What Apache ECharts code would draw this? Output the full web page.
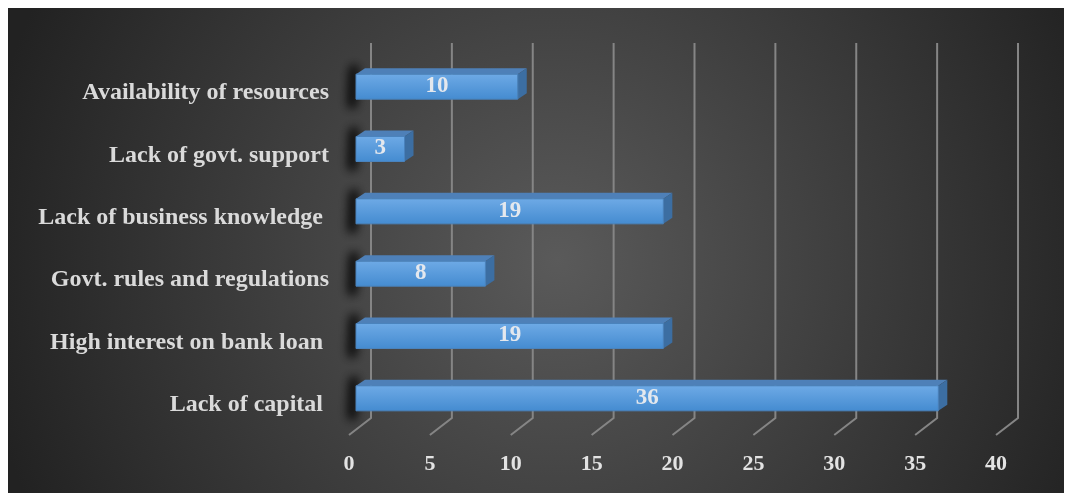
<!DOCTYPE html>
<html>
<head>
<meta charset="utf-8">
<script src="https://cdn.jsdelivr.net/npm/echarts@6/dist/echarts.min.js"></script>
<style>
  html, body { margin: 0; padding: 0; background: #ffffff; }
  #chart { width: 1066px; height: 493px; }
</style>
</head>
<body>
<div id="chart"></div>
<script>
// Constraints reported by respondents (bottom to top on the category axis)
const categories = [
  'Lack of capital ',
  'High interest on bank loan ',
  'Govt. rules and regulations',
  'Lack of business knowledge ',
  'Lack of govt. support',
  'Availability of resources'
];
const counts = [36, 19, 8, 19, 3, 10];
const tickValues = [0, 5, 10, 15, 20, 25, 30, 35, 40];

const chart = echarts.init(document.getElementById('chart'));
const FONT = '"Liberation Serif", "Times New Roman", serif';

// 3D wall geometry (pixel offsets relative to the plot area)
const BACK_DX = 15, FRONT_DX = -7;
const BAR_H = 25, DEPTH_X = 9, DEPTH_Y = 6;
const SHADOW_SHIFT = 3000;

function renderGridLine(params, api) {
  const cs = params.coordSys;
  const x = api.coord([api.value(0), 0])[0];
  const top = cs.y - 12;
  const backBottom = cs.y + cs.height - 11;
  const frontBottom = cs.y + cs.height + 6;
  return {
    type: 'polyline',
    shape: { points: [[x + BACK_DX, top], [x + BACK_DX, backBottom], [x + FRONT_DX, frontBottom]] },
    style: { stroke: '#858585', lineWidth: 2, fill: null },
    silent: true
  };
}

// blurred dark strip cast by a bar onto the left wall; the shape itself sits off-screen
function wallShadow(x0, yTop, yBot, blur, alpha) {
  return {
    type: 'polygon',
    shape: { points: [
      [x0 - 5 - SHADOW_SHIFT, yTop - 8],
      [x0 + 1 - SHADOW_SHIFT, yTop - 8],
      [x0 - 1 - SHADOW_SHIFT, yBot + 8],
      [x0 - 7 - SHADOW_SHIFT, yBot + 8]
    ] },
    style: {
      fill: '#000',
      shadowBlur: blur, shadowColor: 'rgba(0,0,0,' + alpha + ')',
      shadowOffsetX: SHADOW_SHIFT, shadowOffsetY: 0
    },
    z2: 0
  };
}

function renderBar(params, api) {
  const v = api.value(0);
  const cat = api.value(1);
  const p0 = api.coord([0, cat]);
  const p1 = api.coord([v, cat]);
  const x0 = p0[0], x1 = p1[0];
  const yTop = p0[1] - 12, yBot = yTop + BAR_H;
  return {
    type: 'group',
    children: [
      wallShadow(x0, yTop, yBot, 12, 1),
      wallShadow(x0, yTop, yBot, 8, 0.7),
      { // top face
        type: 'polygon',
        shape: { points: [[x0, yTop], [x1, yTop], [x1 + DEPTH_X, yTop - DEPTH_Y], [x0 + DEPTH_X, yTop - DEPTH_Y]] },
        style: { fill: '#4e80b8' },
        z2: 1
      },
      { // side face
        type: 'polygon',
        shape: { points: [[x1, yTop], [x1 + DEPTH_X, yTop - DEPTH_Y], [x1 + DEPTH_X, yBot - DEPTH_Y], [x1, yBot]] },
        style: { fill: '#3c6ea2' },
        z2: 1
      },
      { // front face
        type: 'rect',
        shape: { x: x0, y: yTop, width: x1 - x0, height: BAR_H },
        style: {
          fill: new echarts.graphic.LinearGradient(0, 0, 0, 1, [
            { offset: 0, color: '#6eaae6' },
            { offset: 1, color: '#448bd0' }
          ]),
          stroke: '#4a83bd', lineWidth: 1
        },
        z2: 2
      },
      { // value label
        type: 'text',
        style: {
          x: (x0 + x1) / 2, y: p0[1],
          text: String(v),
          align: 'center', verticalAlign: 'middle',
          fill: '#e4e8ee', font: 'bold 23px ' + FONT
        },
        z2: 3
      }
    ]
  };
}

chart.setOption({
  animation: false,
  graphic: [{
    type: 'rect',
    shape: { x: 8, y: 8, width: 1056, height: 485 },
    style: {
      fill: new echarts.graphic.RadialGradient(0.52, 0.52, 1.2, [
        { offset: 0, color: '#5a5a5a' },
        { offset: 1, color: '#222222' }
      ])
    },
    z: -10,
    silent: true
  }],
  grid: { left: 356, right: 63, top: 55, bottom: 64 },
  xAxis: {
    type: 'value',
    min: 0, max: 40, interval: 5,
    axisLine: { show: false },
    axisTick: { show: false },
    splitLine: { show: false },
    axisLabel: {
      margin: 24,
      color: '#e3e3e3',
      fontFamily: FONT, fontWeight: 'bold', fontSize: 22,
      padding: [0, 14, 0, 0]
    }
  },
  yAxis: {
    type: 'category',
    data: categories,
    axisLine: { show: false },
    axisTick: { show: false },
    splitLine: { show: false },
    axisLabel: {
      margin: 27,
      formatter: v => '{c|' + v + '}',
      rich: {
        c: {
          color: '#dadada',
          fontFamily: FONT, fontWeight: 'bold', fontSize: 24,
          padding: [14, 0, 0, 0]
        }
      }
    }
  },
  series: [
    {
      type: 'custom',
      renderItem: renderGridLine,
      data: tickValues.map(v => [v]),
      encode: { x: 0 },
      z: 1,
      silent: true
    },
    {
      type: 'custom',
      renderItem: renderBar,
      data: counts.map((v, i) => [v, i]),
      encode: { x: 0, y: 1 },
      z: 2,
      silent: true
    }
  ]
});
</script>
</body>
</html>
